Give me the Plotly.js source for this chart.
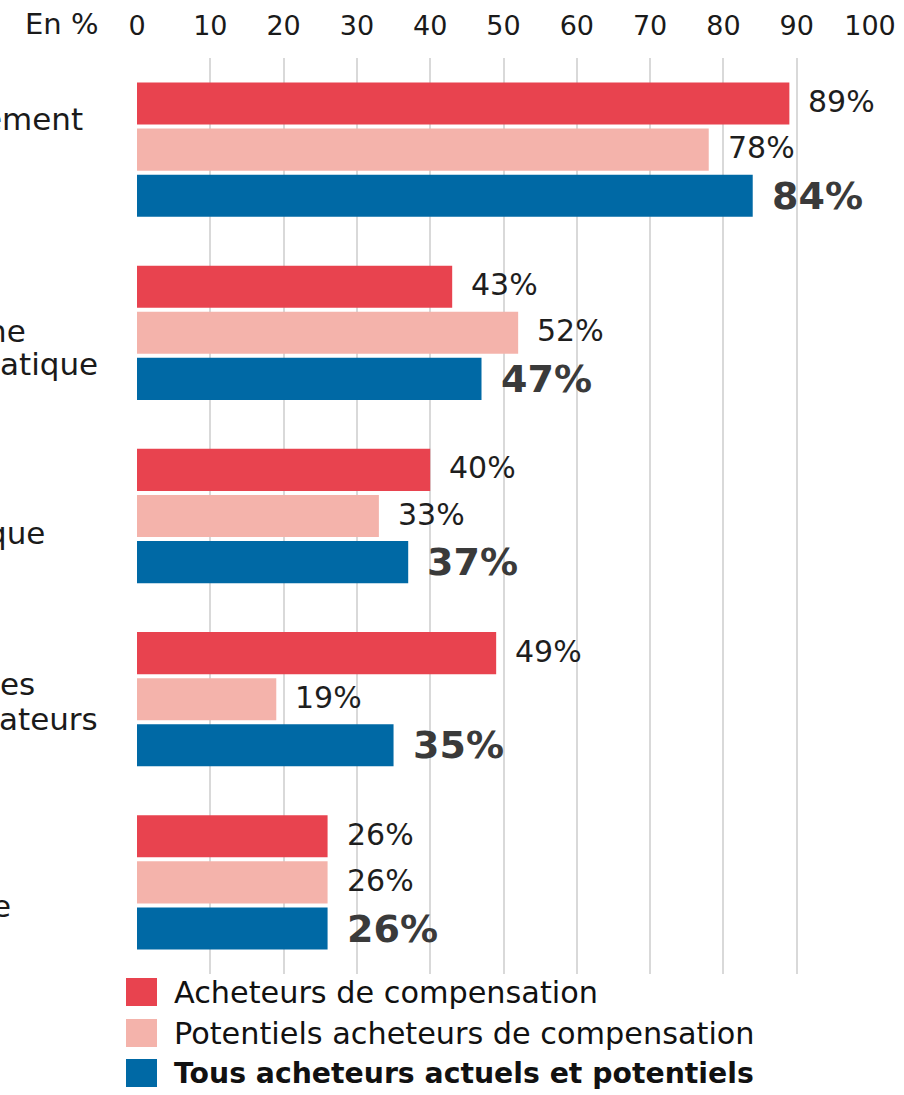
<!DOCTYPE html>
<html>
<head>
<meta charset="utf-8">
<script src="https://cdn.plot.ly/plotly-3.0.1.min.js"></script>
<style>
  html, body { margin: 0; padding: 0; background: #ffffff; }
  #chart { width: 904px; height: 1095px; }
</style>
</head>
<body>
<div id="chart"></div>
<script>
// ---- Data ----
const categoryLines = [["ement"], ["ne", "atique"], ["que"], ["es", "ateurs"], ["e"]];
const categories = ["ement", "ne atique", "que", "es ateurs", "e"];
const seriesNames = [
  "Acheteurs de compensation",
  "Potentiels acheteurs de compensation",
  "Tous acheteurs actuels et potentiels"
];
const acheteurs = [89, 43, 40, 49, 26];
const potentiels = [78, 52, 33, 19, 26];
const tous = [84, 47, 37, 35, 26];
const tickVals = [0, 10, 20, 30, 40, 50, 60, 70, 80, 90, 100];
const tickLabels = ["0", "10", "20", "30", "40", "50", "60", "70", "80", "90", "100"];
const axisUnit = "En %";

// ---- Styling / geometry ----
const W = 904, H = 1095;
const M = { l: 137, r: 34, t: 58, b: 121 };
const plotW = W - M.l - M.r, plotH = H - M.t - M.b;
const px2x = px => (px - M.l) / plotW;
const px2y = py => (H - M.b - py) / plotH;
const colors = ["#e8434f", "#f4b3ab", "#0069a5"];
const FONT = "DejaVu Sans, Liberation Sans, Arial, sans-serif";
const bargap = 0.245, bargroupgap = 0.087;
const barStep = (plotH / categories.length) * (1 - bargap) / 3;

const allSeries = [acheteurs, potentiels, tous];

const traces = allSeries.map((vals, i) => ({
  type: "bar",
  orientation: "h",
  y: categories,
  x: vals,
  name: seriesNames[i],
  marker: { color: colors[i], line: { width: 0 } },
  hoverinfo: "none"
}));

const annotations = [];

// value labels
allSeries.forEach((vals, i) => {
  vals.forEach((v, j) => {
    const bold = i === 2;
    annotations.push({
      x: v, y: categories[j], xref: "x", yref: "y",
      xanchor: "left", yanchor: "middle",
      xshift: 17, yshift: (1 - i) * barStep + (bold ? 0 : 2),
      text: v + "%", showarrow: false,
      font: { family: FONT, size: bold ? 38 : 30, color: bold ? "#3a3a3a" : "#1e1e1e", weight: bold ? "bold" : "normal" }
    });
  });
});

// category labels (cropped on the left in the reference)
const labelLayout = [
  [[85, 119]],
  [[28, 331], [100, 364]],
  [[47, 533]],
  [[37, 684], [100, 719]],
  [[13, 906]]
];
categoryLines.forEach((lines, j) => {
  lines.forEach((t, k) => {
    const [xe, yc] = labelLayout[j][k];
    annotations.push({
      x: px2x(xe), y: px2y(yc), xref: "paper", yref: "paper",
      xanchor: "right", yanchor: "middle", align: "right",
      text: t, showarrow: false,
      font: { family: FONT, size: 31, color: "#1a1a1a" }
    });
  });
});

// axis unit
annotations.push({
  x: px2x(100), y: px2y(24), xref: "paper", yref: "paper",
  xanchor: "right", yanchor: "middle",
  text: axisUnit, showarrow: false,
  font: { family: FONT, size: 29, color: "#1a1a1a" }
});

// custom legend
const legendRows = [992, 1033, 1073];
const shapes = [];
seriesNames.forEach((name, i) => {
  const yc = legendRows[i];
  shapes.push({
    type: "rect", xref: "paper", yref: "paper",
    x0: px2x(126), x1: px2x(157), y0: px2y(yc + 14), y1: px2y(yc - 14),
    fillcolor: colors[i], line: { width: 0 }
  });
  annotations.push({
    x: px2x(172), y: px2y(yc), xref: "paper", yref: "paper",
    xanchor: "left", yanchor: "middle",
    text: name, showarrow: false,
    font: { family: FONT, size: i === 2 ? 28.3 : 30.3, color: "#111111", weight: i === 2 ? "bold" : "normal" }
  });
});

const layout = {
  width: W, height: H,
  margin: M,
  paper_bgcolor: "#ffffff",
  plot_bgcolor: "#ffffff",
  barmode: "group",
  bargap: bargap,
  bargroupgap: bargroupgap,
  showlegend: false,
  font: { family: FONT, color: "#1a1a1a" },
  xaxis: {
    side: "top",
    range: [0, 100],
    tickmode: "array",
    tickvals: tickVals,
    ticktext: tickLabels,
    tickfont: { family: FONT, size: 27, color: "#1a1a1a" },
    ticks: "",
    ticklabelstandoff: 17,
    showgrid: true,
    gridcolor: "#d9d9d9",
    gridwidth: 2,
    zeroline: false,
    showline: false,
    fixedrange: true
  },
  yaxis: {
    type: "category",
    categoryorder: "array",
    categoryarray: categories,
    autorange: "reversed",
    showticklabels: false,
    showgrid: false,
    zeroline: false,
    showline: false,
    ticks: "",
    fixedrange: true
  },
  annotations: annotations,
  shapes: shapes
};

Plotly.newPlot("chart", traces, layout, { displayModeBar: false, staticPlot: true });
</script>
</body>
</html>
